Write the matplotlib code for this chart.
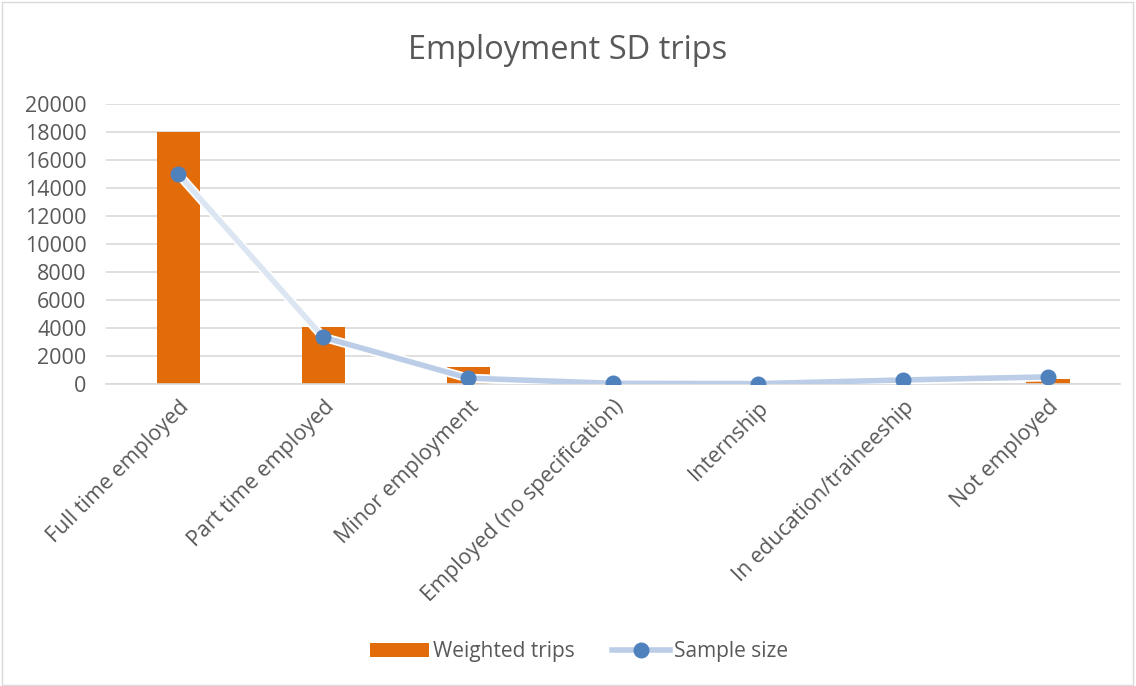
import matplotlib.pyplot as plt
from matplotlib.collections import LineCollection
from matplotlib.lines import Line2D
from matplotlib.patches import Patch, Rectangle
import numpy as np

plt.rcParams["font.family"] = ["Open Sans", "DejaVu Sans"]

categories = [
    "Full time employed",
    "Part time employed",
    "Minor employment",
    "Employed (no specification)",
    "Internship",
    "In education/traineeship",
    "Not employed",
]
weighted_trips = [18000, 4100, 1250, 20, 10, 150, 400]
sample_size = [15000, 3350, 430, 60, 40, 300, 520]
y_ticks = list(range(0, 20001, 2000))

text_col = "#595959"
grid_col = "#d9d9d9"
bar_col = "#e36c0a"
line_col = "#bccde8"
marker_col = "#4f81bd"

fig = plt.figure(figsize=(11.36, 6.86), dpi=100)
ax = fig.add_axes([0.0933, 0.44, 0.893, 0.408])

x = np.arange(len(categories))
ax.bar(x, weighted_trips, width=0.3, color=bar_col, zorder=2)

# line segments: the first one fades out toward the first point
pts = np.column_stack([x, sample_size])
segs = [pts[i:i + 2] for i in range(len(pts) - 1)]
seg_cols = ["#dce6f3"] + [line_col] * (len(segs) - 1)
ax.add_collection(LineCollection(segs, colors="white", linewidths=6.5,
                                 capstyle="round", zorder=3))
ax.add_collection(LineCollection(segs, colors=seg_cols, linewidths=4,
                                 capstyle="round", zorder=4))
ax.plot(x, sample_size, linestyle="none", marker="o", markersize=10.5,
        color=marker_col, zorder=5)

ax.set_xlim(-0.5, len(categories) - 0.5)
ax.set_ylim(0, 20000)
ax.set_yticks(y_ticks)
ax.set_yticklabels([str(v) for v in y_ticks])
ax.set_xticks(x)
ax.set_xticklabels(categories, rotation=45, ha="right",
                   rotation_mode="anchor")
ax.tick_params(axis="both", length=0, labelsize=15.5, colors=text_col)
ax.tick_params(axis="x", pad=9)
ax.tick_params(axis="y", pad=14)
ax.grid(axis="y", color=grid_col, linewidth=1.2, zorder=0)
ax.set_axisbelow(True)
for side in ["top", "right", "left"]:
    ax.spines[side].set_visible(False)
ax.spines["bottom"].set_color(grid_col)
ax.spines["bottom"].set_linewidth(1.2)

fig.text(0.5, 0.927, "Employment SD trips", ha="center", va="center",
         fontsize=23.5, color=text_col)

handles = [
    Patch(facecolor=bar_col, label="Weighted trips"),
    Line2D([0], [0], color=line_col, linewidth=4, marker="o",
           markersize=10.5, markerfacecolor=marker_col,
           markeredgecolor=marker_col, label="Sample size"),
]
fig.legend(handles=handles, loc="center", bbox_to_anchor=(0.51, 0.05),
           ncol=2, frameon=False, fontsize=15, labelcolor=text_col,
           handlelength=2.8, handleheight=0.7, columnspacing=1.8,
           handletextpad=0.2)

fig.patches.append(Rectangle((0.002, 0.002), 0.995, 0.995,
                             transform=fig.transFigure, fill=False,
                             edgecolor=grid_col, linewidth=1))

fig.savefig("out.png", dpi=100)
